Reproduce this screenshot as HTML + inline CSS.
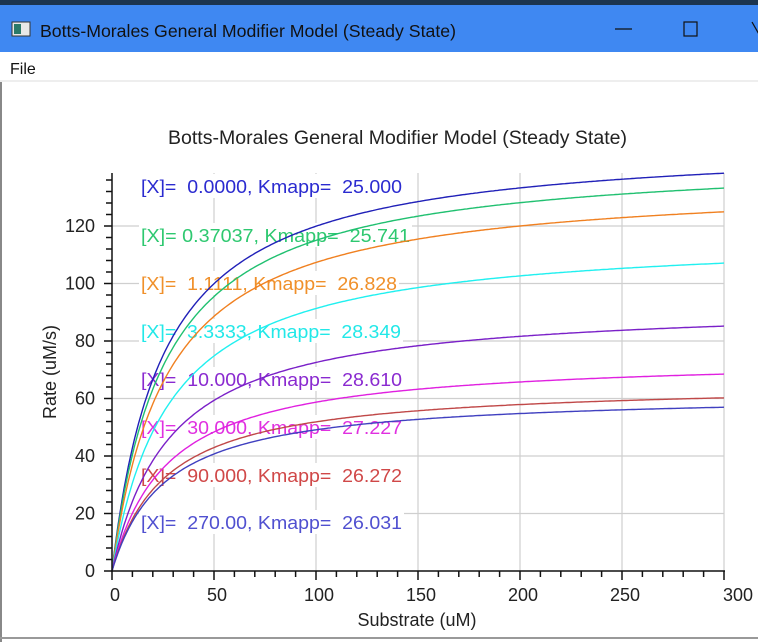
<!DOCTYPE html>
<html><head><meta charset="utf-8">
<style>
html,body{margin:0;padding:0;width:758px;height:642px;overflow:hidden;background:#fff;font-family:"Liberation Sans",sans-serif;}
text{white-space:pre;}
</style></head>
<body>
<svg id="s" width="758" height="642" xmlns="http://www.w3.org/2000/svg" font-family="Liberation Sans, sans-serif">
<rect x="0" y="0" width="758" height="642" fill="#fff"/>
<rect x="0" y="0" width="758" height="5" fill="#1c3550"/>
<rect x="0" y="5" width="758" height="47" fill="#3f88f2"/>
<rect x="12" y="22" width="18" height="14" fill="#e8e8e8" stroke="#333" stroke-width="1"/>
<rect x="14" y="24" width="7" height="10" fill="#2a7a6a"/>
<text x="40" y="37" font-size="17.8" fill="#111" textLength="416" lengthAdjust="spacingAndGlyphs">Botts-Morales General Modifier Model (Steady State)</text>
<line x1="615" y1="29" x2="632" y2="29" stroke="#111" stroke-width="1.2"/>
<rect x="684" y="22" width="13" height="14" fill="none" stroke="#111" stroke-width="1.2"/>
<line x1="752" y1="22" x2="760" y2="36" stroke="#111" stroke-width="1.2"/>
<text x="10" y="74" font-size="16" fill="#111">File</text>
<rect x="0" y="80" width="758" height="2" fill="#eee"/>
<rect x="0" y="82" width="2" height="560" fill="#888"/>
<rect x="0" y="637" width="758" height="2" fill="#999"/>
<text x="168" y="144" font-size="19" fill="#222" textLength="459" lengthAdjust="spacingAndGlyphs">Botts-Morales General Modifier Model (Steady State)</text>
<g id="grid" stroke="#cfcfcf" stroke-width="1.2"></g>
<g id="labels" font-size="18"></g>
<g id="curves" fill="none" stroke-width="1.4"></g>
<g id="axes" stroke="#111" stroke-width="1.5"></g>
<g id="ticklab" font-size="18" fill="#222"></g>
<text x="417" y="626" font-size="18" fill="#222" text-anchor="middle">Substrate (uM)</text>
<text transform="translate(56,372) rotate(-90)" font-size="18" fill="#222" text-anchor="middle">Rate (uM/s)</text>
</svg>
<script>
var NS="http://www.w3.org/2000/svg";
function el(p,t,a,txt){var e=document.createElementNS(NS,t);for(var k in a)e.setAttribute(k,a[k]);if(txt!=null)e.textContent=txt;document.getElementById(p).appendChild(e);return e;}
var X0=112,XS=612/300,Y0=571,YS=2.875,TOP=173,RIGHT=724;
function px(x){return X0+x*XS;} function py(y){return Y0-y*YS;}
for(var x=50;x<=250;x+=50)el("grid","line",{x1:px(x),y1:TOP,x2:px(x),y2:Y0});
el("grid","line",{x1:RIGHT,y1:TOP,x2:RIGHT,y2:Y0});
for(var y=20;y<=120;y+=20)el("grid","line",{x1:X0,y1:py(y),x2:RIGHT,y2:py(y)});
var labs=[
["[X]=  0.0000, Kmapp=  25.000","#2b2bd0",186,402],
["[X]= 0.37037, Kmapp=  25.741","#2ec870",235,410],
["[X]=  1.1111, Kmapp=  26.828","#f0902a",283,397],
["[X]=  3.3333, Kmapp=  28.349","#22e8e8",331,401],
["[X]=  10.000, Kmapp=  28.610","#8a2ad0",379,402],
["[X]=  30.000, Kmapp=  27.227","#e030e0",427,402],
["[X]=  90.000, Kmapp=  26.272","#d04848",475,402],
["[X]=  270.00, Kmapp=  26.031","#5050d0",522,402]];
labs.forEach(function(l){
 var w=l[3]-141;
 el("labels","rect",{x:139,y:l[2]-12,width:w+4,height:24,fill:"#fff"});
 el("labels","text",{x:141,y:l[2]+7,fill:l[1],textLength:w,lengthAdjust:"spacingAndGlyphs"},l[0]);
});
var cur=[[149.9,25,"#2020b8"],[144.6,25.741,"#20c070"],[136.1,26.828,"#f08020"],[117.2,28.349,"#20f0f0"],[93.3,28.61,"#7a20c8"],[74.7,27.227,"#e020e0"],[65.5,26.272,"#c04848"],[61.9,26.031,"#4040c0"]];
cur.forEach(function(c){
 var d="";for(var s=0;s<=300;s+=1){var v=c[0]*s/(c[1]+s);d+=(s?"L":"M")+px(s).toFixed(1)+","+py(v).toFixed(1);}
 el("curves","path",{d:d,stroke:c[2]});
});
el("axes","line",{x1:X0,y1:TOP,x2:X0,y2:Y0+1});
el("axes","line",{x1:X0,y1:Y0,x2:RIGHT+1,y2:Y0});
for(var y=0;y<=136;y+=4){var maj=y%20==0;el("axes","line",{x1:X0-(maj?8:6),y1:py(y),x2:X0,y2:py(y)});
 if(maj)el("ticklab","text",{x:95,y:py(y)+6,"text-anchor":"end"},String(y));}
for(var x=0;x<=300;x+=10){var maj=x%50==0;el("axes","line",{x1:px(x),y1:Y0,x2:px(x),y2:Y0+(maj?9:6)});
 if(maj)el("ticklab","text",{x:px(x)+(x==300?14:3),y:601,"text-anchor":"middle"},String(x));}
</script>
</body></html>
